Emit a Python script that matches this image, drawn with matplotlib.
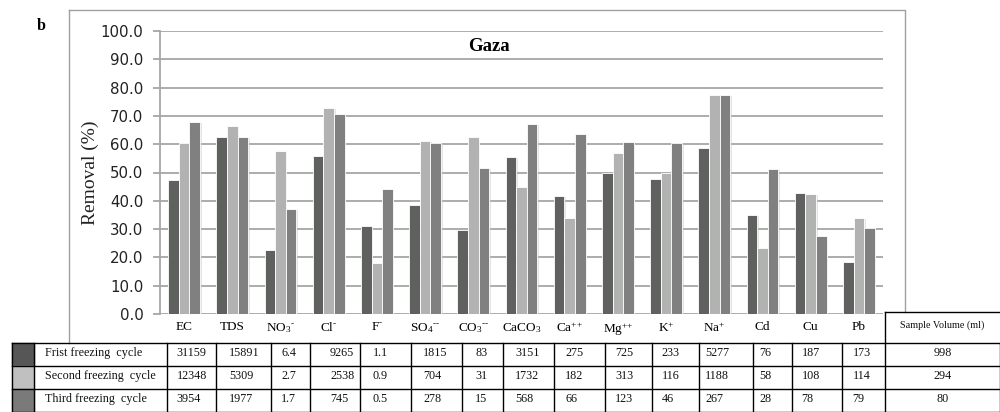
import numpy as np
import matplotlib
matplotlib.use('Agg')
import matplotlib.pyplot as plt
import matplotlib.patheffects as pe
from matplotlib.ticker import FormatStrFormatter

plt.rcParams['mathtext.fontset'] = 'custom'
plt.rcParams['mathtext.rm'] = 'Liberation Serif'
plt.rcParams['mathtext.it'] = 'Liberation Serif:italic'
plt.rcParams['mathtext.bf'] = 'Liberation Serif:bold'

# parameters measured in Gaza samples
categories = ['EC', 'TDS', r'NO$_3$$^{\text{-}}$', r'Cl$^{\text{-}}$', r'F$^{\text{-}}$',
              r'SO$_4$$^{\text{--}}$', r'CO$_3$$^{\text{--}}$', r'CaCO$_3$',
              r'Ca$^{\text{++}}$', r'Mg$^{\text{++}}$', r'K$^{\text{+}}$',
              r'Na$^{\text{+}}$', 'Cd', 'Cu', 'Pb']

# removal (%) per freezing cycle
removal_first = [47.3, 62.6, 22.6, 55.8, 31.1, 38.5, 29.7, 55.4, 41.8, 49.7, 47.7, 58.8, 34.9, 42.6, 18.4]
removal_second = [60.3, 66.4, 57.6, 72.7, 18.1, 61.1, 62.6, 45.0, 33.8, 56.8, 49.9, 77.4, 23.4, 42.3, 33.8]
removal_third = [67.9, 62.6, 37.0, 70.7, 44.2, 60.3, 51.5, 67.1, 63.6, 60.7, 60.3, 77.4, 51.4, 27.7, 30.3]

# concentrations after each cycle (table rows)
row_labels = ['Frist freezing  cycle', 'Second freezing  cycle', 'Third freezing  cycle']
conc_first = ['31159', '15891', '6.4', '9265', '1.1', '1815', '83', '3151', '275', '725', '233', '5277', '76', '187', '173']
conc_second = ['12348', '5309', '2.7', '2538', '0.9', '704', '31', '1732', '182', '313', '116', '1188', '58', '108', '114']
conc_third = ['3954', '1977', '1.7', '745', '0.5', '278', '15', '568', '66', '123', '46', '267', '28', '78', '79']
sample_volume = ['998', '294', '80']

colors = ['#5f615f', '#b2b2b2', '#808080']
swatch_colors = ['#565656', '#c0c0c0', '#7a7a7a']
grid_col = '#a6a6a6'

W, H = 1000, 412
fig = plt.figure(figsize=(W / 100, H / 100), dpi=100)

# overlay in pixel units for the frame and the table
ov = fig.add_axes([0, 0, 1, 1])
ov.set_xlim(0, W)
ov.set_ylim(H, 0)
ov.axis('off')

# chart frame
ov.plot([69, 905, 905], [10, 10, 312], color='#a0a0a0', lw=1.0)
ov.plot([69, 69], [10, 343], color='#a0a0a0', lw=1.0)

# main bar chart
ax = fig.add_axes([160 / W, 1 - 314 / H, (883 - 160) / W, (314 - 31) / H])
x = np.arange(len(categories))
bw = 0.22
shadow = [pe.SimplePatchShadow(offset=(1.2, -0.8), shadow_rgbFace='#c4c4c4', alpha=0.45), pe.Normal()]
for i, (vals, c) in enumerate(zip([removal_first, removal_second, removal_third], colors)):
    bars = ax.bar(x + (i - 1) * bw, vals, width=bw, color=c, edgecolor='white', linewidth=0.6, zorder=3)
    for b in bars:
        b.set_path_effects(shadow)

ax.set_xlim(-0.5, len(categories) - 0.5)
ax.set_ylim(0, 100)
ax.set_yticks(np.arange(0, 101, 10))
ax.yaxis.set_major_formatter(FormatStrFormatter('%.1f'))
ax.yaxis.grid(True, color=grid_col, lw=1.3, zorder=0)
ax.set_axisbelow(True)
for s in ['top', 'right', 'bottom']:
    ax.spines[s].set_visible(False)
ax.spines['left'].set_color(grid_col)
ax.spines['left'].set_linewidth(1.3)
ax.tick_params(axis='y', length=5, width=1.3, color=grid_col, pad=7, labelsize=10.8, labelcolor='#222222')
ax.set_xticks(x)
ax.set_xticklabels(categories, fontfamily='Liberation Serif', fontsize=9.5)
ax.tick_params(axis='x', length=0, pad=5)
ax.set_ylabel('Removal (%)', fontfamily='Liberation Serif', fontsize=14, labelpad=1, color='#222222')
ax.text(0.455, 0.945, 'Gaza', transform=ax.transAxes, ha='center', va='center',
        fontfamily='Liberation Serif', fontweight='bold', fontsize=13.5)

fig.text(41 / W, 1 - 26 / H, 'b', fontfamily='Liberation Serif', fontweight='bold', fontsize=11.5,
         ha='center', va='center')

# data table below the chart
edges = [12, 34, 166.7, 216, 270.7, 310, 360, 410.7, 461.7, 502.7, 554.3, 605, 651.7,
         699, 753.3, 791.7, 841.7, 885, 1000]
text_x = [176.7, 229, 281, 330, 372.7, 423.3, 475, 515, 565, 615, 661.7, 705, 759.3, 801.7, 852.7]
row_y = [343, 366, 389, 412]
tfont = dict(fontfamily='Liberation Serif', fontsize=8.7, va='center', color='#111111')

for r, (vals, sc) in enumerate(zip([conc_first, conc_second, conc_third], swatch_colors)):
    y0, y1 = row_y[r], row_y[r + 1]
    ov.fill_between([12, 34], y0, y1, color=sc, zorder=1)
    yc = (y0 + y1) / 2 - 1.5
    ov.text(45, yc, row_labels[r], ha='left', **tfont)
    for tx, v in zip(text_x, vals):
        ov.text(tx, yc, v, ha='left', **tfont)
    ov.text((885 + 1000) / 2, yc, sample_volume[r], ha='center', **tfont)

for yy in row_y:
    ov.plot([12, 1000], [yy, yy], color='black', lw=1.0, zorder=2)
for xx in edges:
    ov.plot([xx, xx], [343, 412], color='black', lw=1.0, zorder=2)

# sample volume header cell
ov.plot([885, 1000], [312, 312], color='black', lw=1.0)
ov.plot([885, 885], [312, 343], color='black', lw=1.0)
ov.text(942, 325, 'Sample Volume (ml)', ha='center', va='center',
        fontfamily='Liberation Serif', fontsize=7.3, color='#111111')

fig.savefig('out.png', dpi=100)
